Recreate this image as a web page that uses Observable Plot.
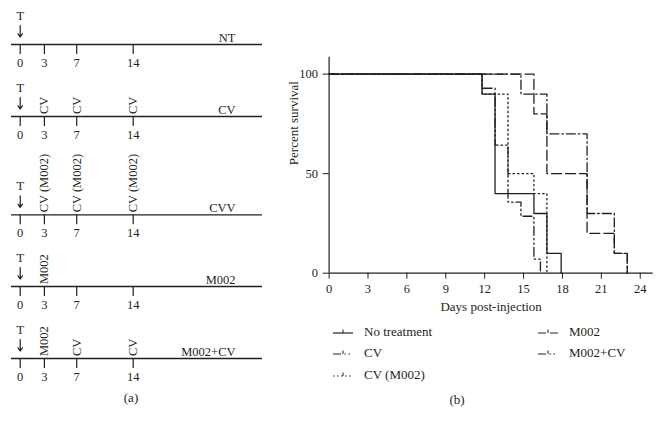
<!DOCTYPE html>
<html><head><meta charset="utf-8">
<script src="https://cdn.jsdelivr.net/npm/d3@7"></script>
<script src="https://cdn.jsdelivr.net/npm/@observablehq/plot@0.6"></script>
<style>
body{margin:0;background:#fff;}
#root{position:relative;width:661px;height:425px;overflow:hidden;background:#fff;font-family:"Liberation Serif",serif;color:#231f20;}
#panelA{position:absolute;left:0;top:0;width:270px;}
#panelA svg{display:block;}
#panelB{position:absolute;left:270px;top:0;}
.lbl{position:absolute;font-size:13px;transform:translate(-50%,-50%);white-space:nowrap;}
.leg{position:absolute;display:flex;align-items:center;font-size:13px;white-space:nowrap;height:16px;}
.leg svg{display:block;margin-right:11px;}
</style></head><body><div id="root"><div id="panelA"></div><div id="panelB"></div></div>
<script>
// ---------- Panel (a): treatment schedule ----------
const scheduleDays = [0, 3, 7, 14];
const tumorDay = 0;
const tumorLabel = "T";
const scheduleGroups = ["NT", "CV", "CVV", "M002", "M002+CV"];
const treatmentDays = [[], [3, 7, 14], [3, 7, 14], [3], [3, 7, 14]];
const treatmentLabels = [[], ["CV", "CV", "CV"], ["CV (M002)", "CV (M002)", "CV (M002)"], ["M002"], ["M002", "CV", "CV"]];

// ---------- Panel (b): survival ----------
const survivalGroups = ["No treatment", "CV", "CV (M002)", "M002", "M002+CV"];
const survivalDays = [
  [0, 11.8, 12.8, 15.8, 16.8, 17.9],
  [0, 11.8, 12.8, 13.8, 14.8, 15.8, 16.3],
  [0, 11.8, 13.8, 15.8, 16.8],
  [0, 15.8, 16.8, 19.9, 22, 23],
  [0, 14.8, 16.8, 19.9, 22, 23]
];
const survivalPercent = [
  [100, 90, 40, 30, 10, 0],
  [100, 92.9, 64.3, 35.7, 28.6, 7.1, 0],
  [100, 90, 50, 40, 0],
  [100, 80, 50, 20, 10, 0],
  [100, 90, 70, 30, 10, 0]
];
const xTicks = [0, 3, 6, 9, 12, 15, 18, 21, 24];
const yTicks = [0, 50, 100];
const xTitle = "Days post-injection";
const yTitle = "Percent survival";
const legendLeft = ["No treatment", "CV", "CV (M002)"];
const legendRight = ["M002", "M002+CV"];

// ---------- styles ----------
const ink = "#231f20";
const font = "'Liberation Serif', serif";
const lineDash = {
  "No treatment": null,
  "CV": "9,3,1.5,3,1.5,3",
  "CV (M002)": "1.5,3",
  "M002": "10,4",
  "M002+CV": "9,3,1.5,3"
};
const legendDash = {
  "No treatment": null,
  "CV": "8,3.5,1.5,2.5,1.5,3",
  "CV (M002)": "1.5,2.5",
  "M002": "8,4,8",
  "M002+CV": "8,3.5,1.5,2.5,1.5,3"
};

// Panel (a)
const panelA = document.getElementById("panelA");
scheduleGroups.forEach((g, i) => {
  const labels = treatmentLabels[i];
  const maxLen = d3.max(labels, l => l.length) || 0;
  const top = Math.max(44, maxLen * 6.7 + 10);
  const bottom = 28;
  const treat = treatmentDays[i].map((d, j) => ({day: d, label: labels[j]}));
  const p = Plot.plot({
    width: 270, height: top + bottom,
    marginLeft: 11, marginRight: 8, marginTop: 0, marginBottom: 0,
    x: {domain: [0, 14], range: [19.7, 132.7], axis: null},
    y: {domain: [-bottom, top], axis: null},
    style: {fontFamily: font, fontSize: "12.5px", color: ink, background: "transparent", overflow: "visible"},
    marks: [
      Plot.ruleY([0], {stroke: ink, strokeWidth: 1.3}),
      Plot.ruleX(scheduleDays, {x: d => d, y1: 0, y2: -10, stroke: ink, strokeWidth: 1.2}),
      Plot.text(scheduleDays, {x: d => d, y: -18.5, text: d => String(d), fill: ink}),
      Plot.text([{day: tumorDay, s: tumorLabel}], {x: "day", y: 29, text: "s", fill: ink}),
      Plot.arrow([{day: tumorDay}], {x1: "day", x2: "day", y1: 19, y2: 7.5, stroke: ink, strokeWidth: 1.2, headLength: 6, headAngle: 70}),
      Plot.text(treat, {x: "day", y: 2.5, text: "label", rotate: -90, textAnchor: "start", fill: ink}),
      Plot.text([g], {frameAnchor: "right", dx: -27, y: 6.5, text: d => d, fill: ink})
    ]
  });
  panelA.appendChild(p);
});

// Panel (b)
const survivalData = survivalGroups.map((g, i) =>
  survivalDays[i].map((t, j) => ({group: g, t, s: survivalPercent[i][j]})));
const pB = Plot.plot({
  width: 391, height: 320,
  marginLeft: 58.6, marginRight: 8.3, marginTop: 56.7, marginBottom: 47.3,
  x: {domain: [0, 25], ticks: xTicks, tickSize: 6, tickPadding: 5, label: null},
  y: {domain: [0, 108.5], ticks: yTicks, tickSize: 6, tickPadding: 5, label: null},
  style: {fontFamily: font, fontSize: "12.5px", color: ink, background: "transparent", overflow: "visible"},
  marks: [
    Plot.ruleX([0], {stroke: ink, strokeWidth: 1.2}),
    Plot.ruleY([0], {stroke: ink, strokeWidth: 1.2}),
    ...survivalData.map((d, i) => Plot.line(d, {
      x: "t", y: "s", curve: "step-after", stroke: ink, strokeWidth: 1.3,
      strokeDasharray: lineDash[survivalGroups[i]] || undefined
    })),
    Plot.text([xTitle], {frameAnchor: "bottom", dy: 37.5, text: d => d, fill: ink, fontSize: 13}),
    Plot.text([yTitle], {frameAnchor: "left", dx: -35, rotate: -90, text: d => d, fill: ink, fontSize: 13})
  ]
});
document.getElementById("panelB").appendChild(pB);

// Legend + panel labels
const root = document.getElementById("root");
function addLegend(name, x, y) {
  const div = document.createElement("div");
  div.className = "leg";
  div.style.left = x + "px";
  div.style.top = (y - 8) + "px";
  const dash = legendDash[name];
  div.innerHTML = `<svg width="20" height="10"><line x1="0" x2="20" y1="6" y2="6" stroke="${ink}" stroke-width="1.2" ${dash ? `stroke-dasharray="${dash}"` : ""}/><line x1="10" x2="10" y1="2.5" y2="6" stroke="${ink}" stroke-width="1"/></svg><span>${name}</span>`;
  root.appendChild(div);
}
const legendRows = [332, 353, 375];
legendLeft.forEach((n, i) => addLegend(n, 333, legendRows[i]));
legendRight.forEach((n, i) => addLegend(n, 538, legendRows[i]));

function addLabel(t, x, y) {
  const d = document.createElement("div");
  d.className = "lbl";
  d.style.left = x + "px"; d.style.top = y + "px";
  d.textContent = t;
  root.appendChild(d);
}
addLabel("(a)", 131, 398);
addLabel("(b)", 457, 400);
</script></body></html>
